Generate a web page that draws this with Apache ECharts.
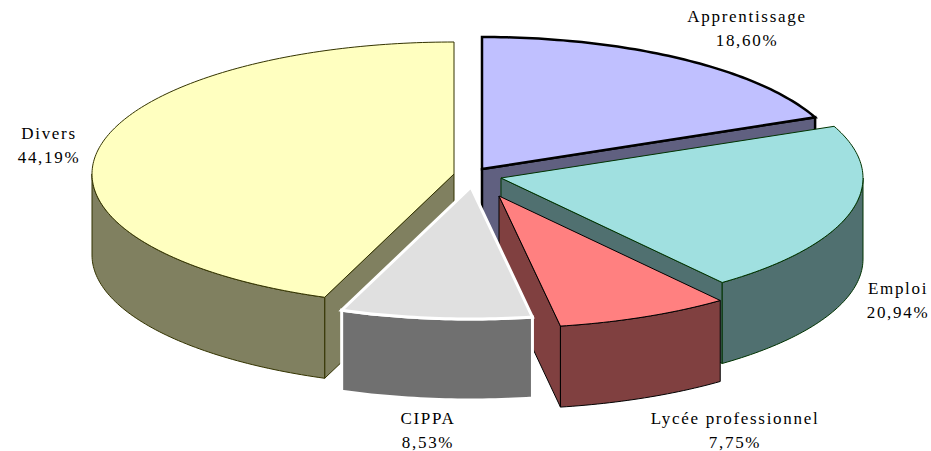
<!DOCTYPE html>
<html>
<head>
<meta charset="utf-8">
<style>
  html, body { margin: 0; padding: 0; background: #fff; }
  #chart { width: 931px; height: 451px; }
  /* the original labels are widely tracked */
  #chart text { letter-spacing: 1.7px; }
</style>
<script src="https://cdn.jsdelivr.net/npm/echarts@6/dist/echarts.min.js"></script>
</head>
<body>
<div id="chart"></div>
<script>
const categories = ['Apprentissage', 'Emploi', 'Lycée professionnel', 'CIPPA', 'Divers']
const shares = [18.60, 20.94, 7.75, 8.53, 44.19]

// painted back to front, Divers has to stay under CIPPA
const drawOrder = [4, 0, 1, 2, 3]

const topColors = ['#C0C0FF', '#A0E0E0', '#FF8080', '#E0E0E0', '#FFFFC0']
const sideColors = ['#606080', '#507070', '#804040', '#707070', '#808060']
const borderColors = ['#000000', '#003300', '#000000', '#FFFFFF', '#333300']
const borderWidths = [2.5, 1, 1, 3, 1]

// tip of each exploded slice, in pixels
const sliceTips = [[482, 169], [501, 178], [499, 196], [471, 187], [454, 174]]
const labelSpots = [[747, 28], [898, 300], [735, 430], [428, 430], [49, 145]]

const radiusX = 362
const radiusY = 132
const depth = 81

const totalShare = shares.reduce((sum, v) => sum + v, 0)

const arcPoints = (tip, from, to, drop) => {
  const points = []
  const steps = Math.max(1, Math.ceil(to - from))
  for (let i = 0; i <= steps; i++) {
    const rad = (from + (to - from) * i / steps) * Math.PI / 180
    points.push([
      tip[0] + radiusX * Math.sin(rad),
      tip[1] - radiusY * Math.cos(rad) + drop
    ])
  }
  return points
}

const edgeWall = (tip, angle) => {
  const rim = arcPoints(tip, angle, angle, 0)[0]
  return [tip, rim, [rim[0], rim[1] + depth], [tip[0], tip[1] + depth]]
}

const renderSlice = (params, api) => {
  const index = api.value(0)
  const start = api.value(1)
  const end = api.value(2)
  const tip = sliceTips[index]
  const sideStyle = {
    fill: sideColors[index],
    stroke: borderColors[index],
    lineWidth: borderWidths[index],
    lineJoin: 'miter'
  }
  const topStyle = { ...sideStyle, fill: topColors[index] }
  const children = []
  const addWall = (points) => children.push({ type: 'polygon', shape: { points }, style: sideStyle })

  // a flat wall shows only when it faces the viewer
  if (Math.cos((start - 90) * Math.PI / 180) < 0) addWall(edgeWall(tip, start))
  if (Math.cos((end + 90) * Math.PI / 180) < 0) addWall(edgeWall(tip, end))

  const wallFrom = Math.max(start, 90)
  const wallTo = Math.min(end, 270)
  if (wallFrom < wallTo) {
    addWall([
      ...arcPoints(tip, wallFrom, wallTo, 0),
      ...arcPoints(tip, wallFrom, wallTo, depth).reverse()
    ])
  }

  children.push({
    type: 'polygon',
    shape: { points: [tip, ...arcPoints(tip, start, end, 0)] },
    style: topStyle
  })

  children.push({
    type: 'text',
    x: labelSpots[index][0],
    y: labelSpots[index][1],
    style: {
      text: categories[index] + '\n' + shares[index].toFixed(2).replace('.', ',') + '%',
      fill: '#000',
      font: '17px "Liberation Serif"',
      lineHeight: 24,
      align: 'center',
      verticalAlign: 'middle'
    }
  })
  return { type: 'group', children }
}

// cumulative angles, clockwise from twelve o'clock
let running = 0
const sliceAngles = shares.map((v) => {
  const from = running
  running += v
  return [from * 360 / totalShare, running * 360 / totalShare]
})

const chart = echarts.init(document.getElementById('chart'), null, { renderer: 'svg' })

chart.setOption({
  backgroundColor: '#fff',
  animation: false,
  series: [{
    type: 'custom',
    coordinateSystem: 'none',
    silent: true,
    renderItem: renderSlice,
    encode: { tooltip: [] },
    data: drawOrder.map((i) => [i, sliceAngles[i][0], sliceAngles[i][1]])
  }]
})
</script>
</body>
</html>
